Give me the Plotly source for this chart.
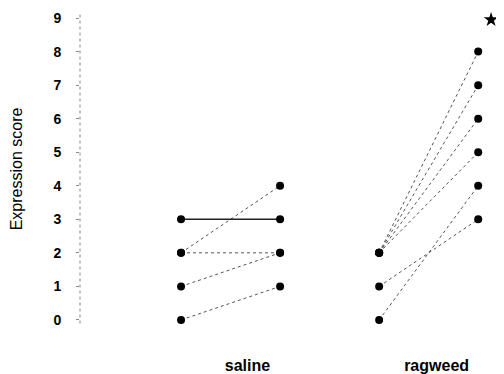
import plotly.graph_objects as go

groups = ["saline", "ragweed"]
# paired observations (before, after) for each subject
saline_before = [0, 1, 2, 2, 3]
saline_after = [1, 2, 2, 4, 3]
saline_dash = ["dot", "dot", "dot", "dot", "solid"]
ragweed_before = [0, 1, 2, 2, 2, 2]
ragweed_after = [4, 3, 5, 6, 7, 8]
ragweed_dash = ["dot", "dot", "dot", "dot", "dot", "dot"]
y_ticks = [0, 1, 2, 3, 4, 5, 6, 7, 8, 9]
sig_label = "★"
sig_value = 8.95

# x positions of the two measurements within each group
group_pos = {"saline": (0, 1), "ragweed": (2, 3)}
label_pos = [0.67, 2.58]

fig = go.Figure()
for g, before, after, dashes in [("saline", saline_before, saline_after, saline_dash),
                                 ("ragweed", ragweed_before, ragweed_after, ragweed_dash)]:
    x0, x1 = group_pos[g]
    for b, a, d in zip(before, after, dashes):
        fig.add_trace(go.Scatter(
            x=[x0, x1], y=[b, a], mode="lines+markers",
            line=dict(color="#222222" if d == "solid" else "#555555",
                      width=1.4 if d == "solid" else 1, dash=d),
            marker=dict(color="black", size=8),
            cliponaxis=False,
            showlegend=False, hoverinfo="skip"))

fig.add_trace(go.Scatter(x=[3.13], y=[sig_value], mode="markers",
                         marker=dict(symbol="star", size=11, color="black"),
                         cliponaxis=False,
                         showlegend=False, hoverinfo="skip"))

fig.add_shape(type="line", xref="paper", yref="paper", x0=0, x1=0, y0=0.02, y1=0.98,
              line=dict(color="#888888", width=1, dash="dot"))

fig.update_layout(
    width=496, height=366,
    margin=dict(l=72, r=4, t=0, b=44),
    paper_bgcolor="white", plot_bgcolor="white",
    font=dict(family="Liberation Sans", color="black"),
    xaxis=dict(range=[-1.02, 3.22], showgrid=False, zeroline=False, showline=False,
               tickmode="array", tickvals=label_pos, ticktext=groups,
               ticks="outside", ticklen=21, tickcolor="rgba(0,0,0,0)",
               tickfont=dict(size=16, weight="bold", color="black")),
    yaxis=dict(range=[-0.3, 9.3], showgrid=False, zeroline=False, showline=False,
               tickmode="array", tickvals=y_ticks,
               ticks="outside", ticklen=3, tickcolor="#888888",
               ticklabelstandoff=12,
               tickfont=dict(size=14, weight="bold", color="black"),
               title=dict(text="Expression score", font=dict(size=16, color="black"),
                          standoff=31)),
)

fig.write_html("out.html")
